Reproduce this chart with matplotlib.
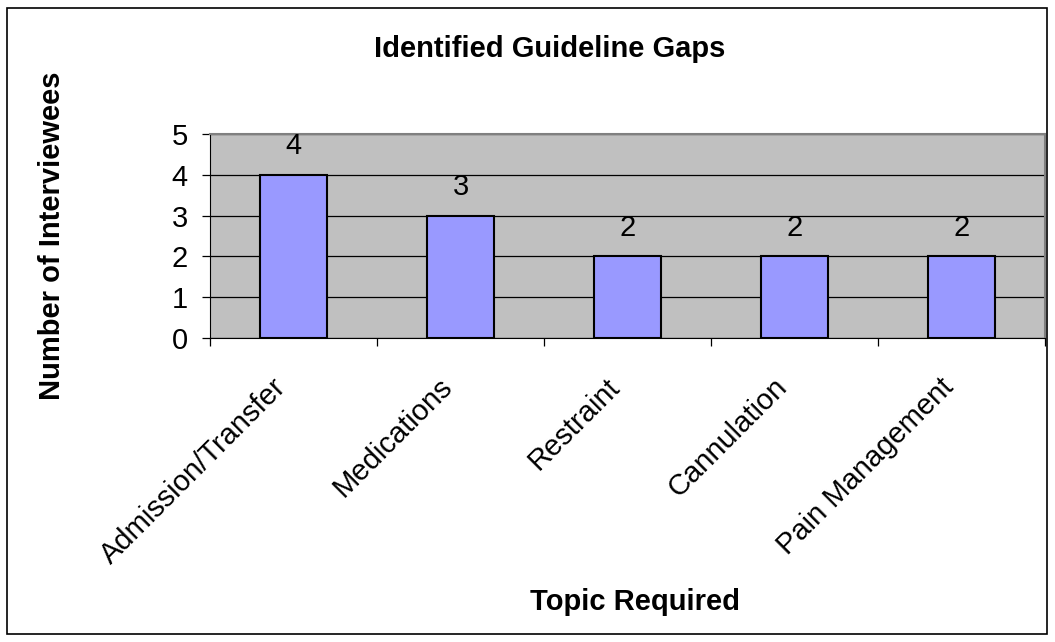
import matplotlib
matplotlib.use("Agg")
import matplotlib.pyplot as plt
from matplotlib.patches import Rectangle
from matplotlib.transforms import ScaledTranslation

plt.rcParams['font.family'] = ['Liberation Sans', 'DejaVu Sans']

topics = ["Admission/Transfer", "Medications", "Restraint", "Cannulation", "Pain Management"]
counts = [4, 3, 2, 2, 2]
y_ticks = [0, 1, 2, 3, 4, 5]

W, H = 1055, 642
FS = 21
fig = plt.figure(figsize=(W / 100, H / 100), dpi=100)
fig.patch.set_facecolor("white")

# outer chart border
fig.patches.append(Rectangle((7 / W, 1 - 634 / H), (1047 - 7) / W, (634 - 8) / H,
                             transform=fig.transFigure, fill=False,
                             edgecolor="black", linewidth=1.2))

ax = fig.add_axes([210 / W, 1 - 338 / H, (1045 - 210) / W, (338 - 134) / H])
ax.set_facecolor("#C0C0C0")

x = list(range(len(topics)))
ax.bar(x, counts, width=0.4, color="#9999FF", edgecolor="black", linewidth=1.5, zorder=3)
for xi, c in zip(x, counts):
    ax.text(xi, c + 0.5, str(c), ha="center", va="baseline", fontsize=FS, zorder=4)

ax.set_xlim(-0.5, len(topics) - 0.5)
ax.set_ylim(0, 5)
ax.set_yticks(y_ticks)
ax.yaxis.grid(True, color="black", linewidth=0.9, zorder=1)
ax.set_axisbelow(True)

ax.spines["top"].set_color("#808080")
ax.spines["right"].set_color("#808080")
ax.spines["top"].set_linewidth(1.5)
ax.spines["right"].set_linewidth(1.5)
ax.spines["left"].set_color("black")
ax.spines["bottom"].set_color("black")

ax.tick_params(axis="y", direction="out", length=6, width=0.9, labelsize=FS, pad=10)
ax.set_xticks([i - 0.5 for i in range(len(topics) + 1)], minor=False)
ax.set_xticklabels([])
ax.set_xticks(x, minor=True)
ax.set_xticklabels(topics, minor=True, rotation=45, ha="right", rotation_mode="anchor",
                   fontsize=FS)
ax.tick_params(axis="x", which="major", direction="out", length=6, width=0.9)
ax.tick_params(axis="x", which="minor", length=0, pad=10)

# slide category labels down-left along their slant
shift = ScaledTranslation(-22 / 100, -21 / 100, fig.dpi_scale_trans)
for lab in ax.get_xticklabels(minor=True):
    lab.set_transform(lab.get_transform() + shift)

fig.text(550 / W, 1 - 57 / H, "Identified Guideline Gaps", ha="center", va="baseline",
         fontsize=FS, fontweight="bold")
fig.text(635 / W, 1 - 610 / H, "Topic Required", ha="center", va="baseline",
         fontsize=FS, fontweight="bold")
fig.text(52 / W, 1 - 236 / H, "Number of Interviewees", ha="center", va="center",
         rotation=90, fontsize=FS, fontweight="bold")

fig.savefig("out.png", dpi=100)
